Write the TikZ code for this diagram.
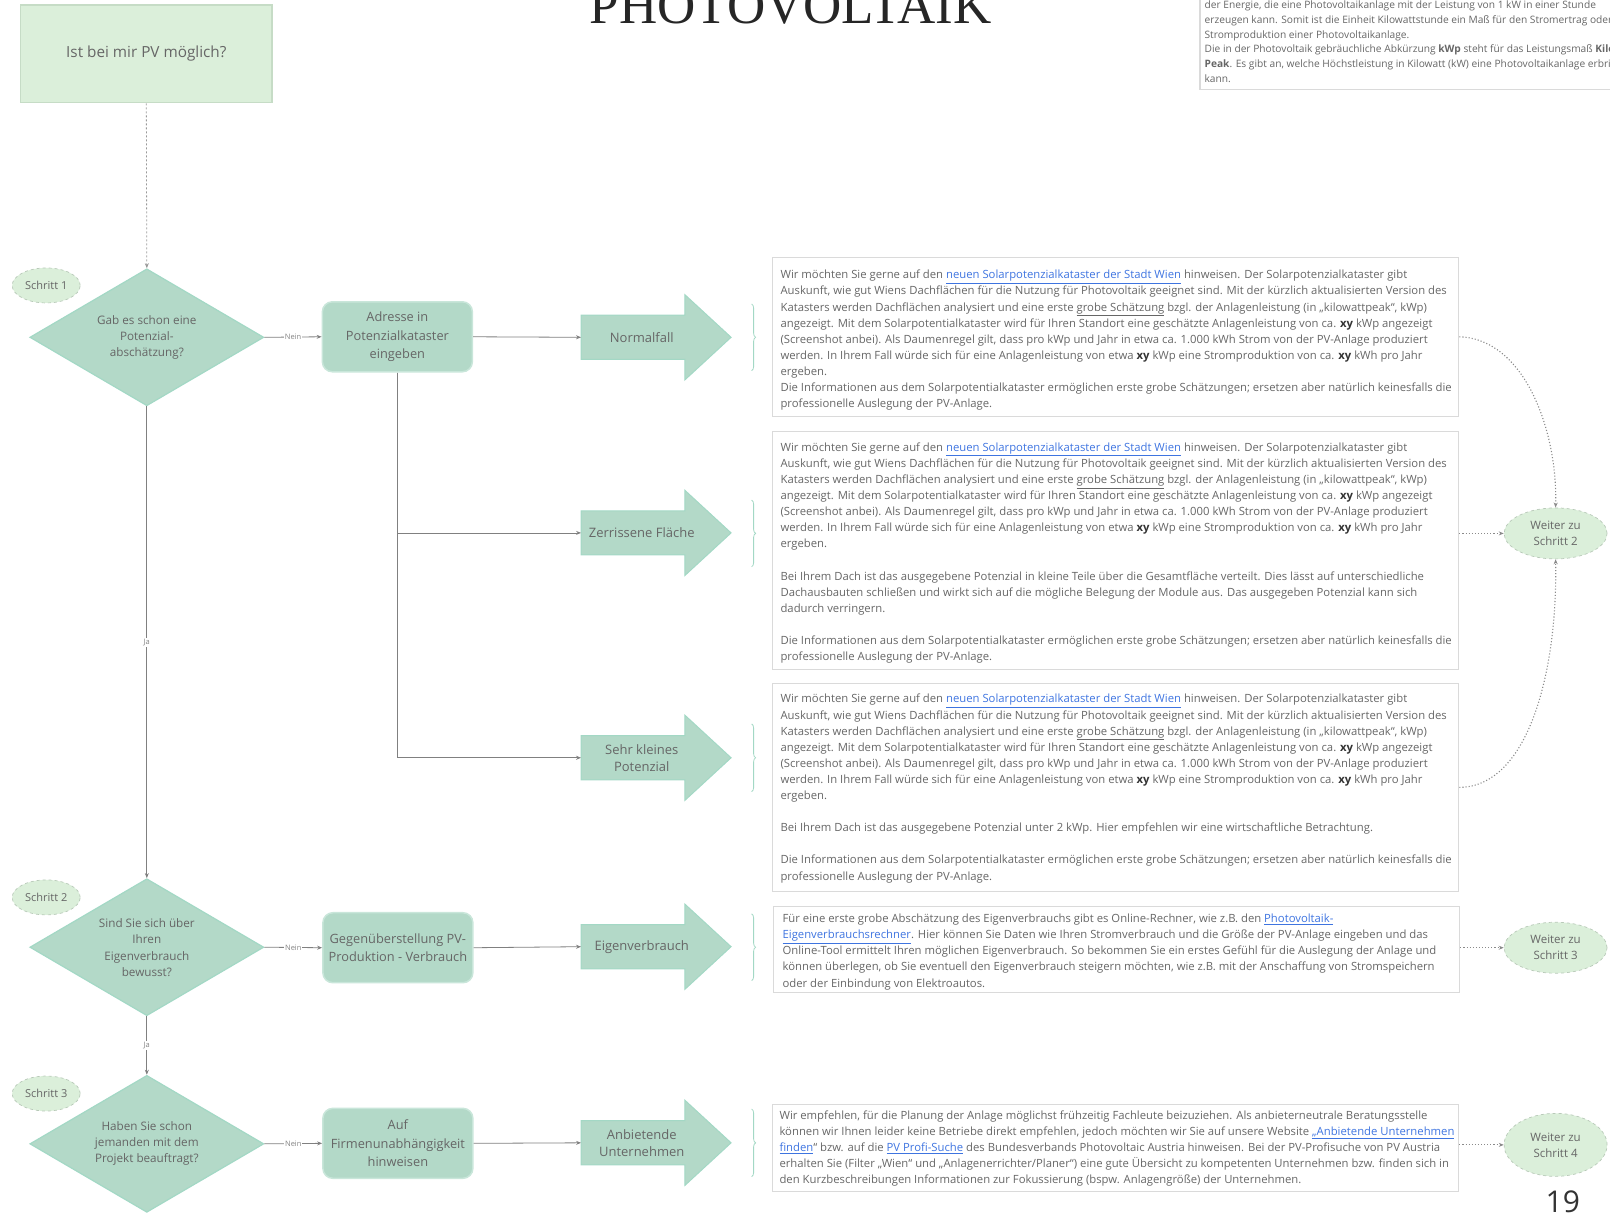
\documentclass[tikz,border=0pt]{standalone}
\usepackage{fontspec}
\setmainfont{Open Sans}
\newfontfamily\titlefont{Liberation Serif}
\usetikzlibrary{shapes.geometric,arrows.meta,decorations.pathreplacing}
\definecolor{mint}{HTML}{B3D9C8}
\definecolor{mintline}{HTML}{A3D8C5}
\definecolor{boxedge}{HTML}{C9E6DA}
\definecolor{lgreen}{HTML}{DBEFDA}
\definecolor{lgreenline}{HTML}{C6DCC6}
\definecolor{txt}{HTML}{666666}
\definecolor{link}{HTML}{3E74E0}
\definecolor{boxline}{HTML}{DADADA}
\definecolor{conn}{HTML}{808080}
\definecolor{dotc}{HTML}{8A8A8A}
\newcommand\lnk[1]{\textcolor{link}{\underline{#1}}}
\newcommand\bxy{\textbf{\textcolor{black!80}{xy}}}
\newcommand\katastertext{Wir möchten Sie gerne auf den \lnk{neuen Solarpotenzialkataster der Stadt Wien} hinweisen. Der Solarpotenzialkataster gibt\\
Auskunft, wie gut Wiens Dachflächen für die Nutzung für Photovoltaik geeignet sind. Mit der kürzlich aktualisierten Version des\\
Katasters werden Dachflächen analysiert und eine erste \underline{grobe Schätzung} bzgl. der Anlagenleistung (in „kilowattpeak“, kWp)\\
angezeigt. Mit dem Solarpotentialkataster wird für Ihren Standort eine geschätzte Anlagenleistung von ca. \bxy{} kWp angezeigt\\
(Screenshot anbei). Als Daumenregel gilt, dass pro kWp und Jahr in etwa ca. 1.000 kWh Strom von der PV-Anlage produziert\\
werden. In Ihrem Fall würde sich für eine Anlagenleistung von etwa \bxy{} kWp eine Stromproduktion von ca. \bxy{} kWh pro Jahr\\
ergeben.}
\newcommand\infotext{Die Informationen aus dem Solarpotentialkataster ermöglichen erste grobe Schätzungen; ersetzen aber natürlich keinesfalls die\\
professionelle Auslegung der PV-Anlage.}
\newcommand\pvarrow[3]{%
  \filldraw[arrowshape] (566,#2-21.5) -- (667,#2-21.5) -- (667,#2-41.5) -- (712,#2) -- (667,#2+41.5) -- (667,#2+21.5) -- (566,#2+21.5) -- cycle;
  \node[arrowtext] (#1) at (625,#2) {#3};}
\begin{document}
\begin{tikzpicture}[x=1.0268pt,y=-1.0268pt,
  every node/.style={text=txt},
  conn/.style={draw=conn, line width=0.8pt, -{Stealth[length=5pt,width=4pt]}},
  dashconn/.style={draw=conn!80, line width=0.8pt, dash pattern=on 2pt off 2pt, -{Stealth[length=5pt,width=4pt]}},
  dotconn/.style={draw=dotc, line width=1.1pt, dotted, -{Stealth[length=5pt,width=4pt]}},
  lab/.style={fill=white, font=\fontsize{7.5}{8}\selectfont, inner sep=1pt, text=txt!80},
  decision/.style={diamond, fill=mint, draw=mintline, line width=1.2pt, minimum width=234pt, minimum height=137pt, inner sep=0pt},
  dtext/.style={align=center, font=\fontsize{11.7}{16.2}\selectfont},
  procbox/.style={rectangle, rounded corners=10pt, fill=mint, draw=boxedge, line width=1.5pt, minimum width=150pt, minimum height=70pt, align=center, font=\fontsize{12.8}{18.3}\selectfont, inner sep=2pt},
  arrowshape/.style={fill=mint, draw=mintline, line width=1pt},
  arrowtext/.style={minimum width=121pt, inner sep=0pt, align=center, font=\fontsize{13}{17}\selectfont},
  stepell/.style={ellipse, fill=lgreen, draw=lgreenline!80!gray, dashed, line width=0.7pt, minimum width=68pt, minimum height=35pt, inner sep=0pt, font=\fontsize{11}{12}\selectfont},
  nextell/.style={ellipse, fill=lgreen, draw=lgreenline!80!gray, dashed, line width=0.7pt, minimum width=103pt, minimum height=51pt, inner sep=0pt, align=center, font=\fontsize{11.5}{16}\selectfont},
  tbox/.style={rectangle, draw=boxline, line width=1.2pt, minimum width=686pt, anchor=north west, inner sep=0pt},
  ttext/.style={anchor=north west, align=left, inner sep=0pt, font=\fontsize{11.3}{16.1}\selectfont},
  brc/.style={draw=mintline, line width=0.8pt, decorate, decoration={brace, amplitude=4pt}}
]
\useasboundingbox (0,0) rectangle (1568,1184);

% title and top-right note
\node[font=\titlefont\fontsize{53}{53}\selectfont, text=black!85, anchor=base] (title) at (770,23) {PHOTOVOLTAIK};
\node[rectangle, draw=boxline, line width=1.2pt, anchor=south west, minimum width=450pt, minimum height=100pt] (note) at (1168,88) {};
\node[anchor=north west, align=left, inner sep=0pt, font=\fontsize{10.2}{14.8}\selectfont] (notetext) at (1173,0.5) {der Energie, die eine Photovoltaikanlage mit der Leistung von 1 kW in einer Stunde\\
erzeugen kann. Somit ist die Einheit Kilowattstunde ein Maß für den Stromertrag oder\\
Stromproduktion einer Photovoltaikanlage.\\
Die in der Photovoltaik gebräuchliche Abkürzung \textbf{kWp} steht für das Leistungsmaß \textbf{Kilowatt}\\
\textbf{Peak}. Es gibt an, welche Höchstleistung in Kilowatt (kW) eine Photovoltaikanlage erbringen\\
kann.};

% left column
\node[rectangle, fill=lgreen, draw=lgreenline, line width=1.5pt, minimum width=251.5pt, minimum height=97.5pt, font=\fontsize{15.3}{18}\selectfont] (start) at (142.5,52.5) {Ist bei mir PV möglich?};

\node[stepell] (s1) at (45,278) {Schritt 1};
\node[decision] (d1) at (143,328.5) {};
\node[dtext] (d1t) at (143,328.5) {Gab es schon eine\\Potenzial-\\abschätzung?};

\node[stepell] (s2) at (45,874) {Schritt 2};
\node[decision] (d2) at (143,922.5) {};
\node[dtext] (d2t) at (143,923) {Sind Sie sich über\\Ihren\\Eigenverbrauch\\bewusst?};

\node[stepell] (s3) at (45,1065) {Schritt 3};
\node[decision] (d3) at (143,1114) {};
\node[dtext] (d3t) at (143,1113.5) {Haben Sie schon\\jemanden mit dem\\Projekt beauftragt?};

% process boxes
\node[procbox] (adr) at (387,328) {Adresse in\\Potenzialkataster\\eingeben};
\node[procbox] (geg) at (387.5,923) {Gegenüberstellung PV-\\Produktion - Verbrauch};
\node[procbox] (auf) at (387.5,1113.5) {Auf\\Firmenunabhängigkeit\\hinweisen};

% arrows
\pvarrow{nf}{328.5}{Normalfall}
\pvarrow{zf}{519}{Zerrissene Fläche}
\pvarrow{sk}{738}{Sehr kleines\\Potenzial}
\pvarrow{ev}{922}{Eigenverbrauch}
\pvarrow{au}{1113}{Anbietende\\Unternehmen}

% braces
\draw[brc] (732,296) -- (732,361);
\draw[brc] (732,487) -- (732,552);
\draw[brc] (732,705) -- (732,771);
\draw[brc] (732,890) -- (732,955);
\draw[brc] (732,1080) -- (732,1146);

% text boxes
\node[tbox, minimum height=159pt] (b1) at (752,250) {};
\node[ttext] (b1t) at (760,263) {\katastertext\\\infotext};

\node[tbox, minimum height=238pt] (b2) at (752,420) {};
\node[ttext] (b2t) at (760,431) {\katastertext\\[16.1pt]
Bei Ihrem Dach ist das ausgegebene Potenzial in kleine Teile über die Gesamtfläche verteilt. Dies lässt auf unterschiedliche\\
Dachausbauten schließen und wirkt sich auf die mögliche Belegung der Module aus. Das ausgegeben Potenzial kann sich\\
dadurch verringern.\\[16.1pt]
\infotext};

\node[tbox, minimum height=208pt] (b3) at (752,665) {};
\node[ttext] (b3t) at (760,676) {\katastertext\\[16.1pt]
Bei Ihrem Dach ist das ausgegebene Potenzial unter 2 kWp. Hier empfehlen wir eine wirtschaftliche Betrachtung.\\[16.1pt]
\infotext};

\node[tbox, minimum height=86pt] (b4) at (753,882) {};
\node[ttext] (b4t) at (762,890) {Für eine erste grobe Abschätzung des Eigenverbrauchs gibt es Online-Rechner, wie z.B. den \lnk{Photovoltaik-}\\
\lnk{Eigenverbrauchsrechner}. Hier können Sie Daten wie Ihren Stromverbrauch und die Größe der PV-Anlage eingeben und das\\
Online-Tool ermittelt Ihren möglichen Eigenverbrauch. So bekommen Sie ein erstes Gefühl für die Auslegung der Anlage und\\
können überlegen, ob Sie eventuell den Eigenverbrauch steigern möchten, wie z.B. mit der Anschaffung von Stromspeichern\\
oder der Einbindung von Elektroautos.};

\node[tbox, minimum height=87pt] (b5) at (752,1075) {};
\node[ttext] (b5t) at (759,1081.5) {Wir empfehlen, für die Planung der Anlage möglichst frühzeitig Fachleute beizuziehen. Als anbieterneutrale Beratungsstelle\\
können wir Ihnen leider keine Betriebe direkt empfehlen, jedoch möchten wir Sie auf unsere Website \lnk{„Anbietende Unternehmen}\\
\lnk{finden}“ bzw. auf die \lnk{PV Profi-Suche} des Bundesverbands Photovoltaic Austria hinweisen. Bei der PV-Profisuche von PV Austria\\
erhalten Sie (Filter „Wien“ und „Anlagenerrichter/Planer“) eine gute Übersicht zu kompetenten Unternehmen bzw. finden sich in\\
den Kurzbeschreibungen Informationen zur Fokussierung (bspw. Anlagengröße) der Unternehmen.};

% next-step ellipses
\node[nextell] (w2) at (1515,519.5) {Weiter zu\\Schritt 2};
\node[nextell] (w3) at (1515,923) {Weiter zu\\Schritt 3};
\node[nextell, minimum height=63pt] (w4) at (1515,1115) {Weiter zu\\Schritt 4};

\node[font=\fontsize{30}{30}\selectfont, text=black!80, anchor=base, inner sep=0pt] (pg) at (1522,1181) {19};

% connectors
\draw[dashconn] (start.south) -- (d1.north);
\draw[conn] (d1.south) -- node[lab]{Ja} (d2.north);
\draw[conn] (d2.south) -- node[lab]{Ja} (d3.north);
\draw[conn] (d1.east) -- node[lab]{Nein} (adr.west);
\draw[conn] (d2.east) -- node[lab]{Nein} (geg.west);
\draw[conn] (d3.east) -- node[lab]{Nein} (auf.west);
\draw[conn] (adr.east) -- (nf.west);
\draw[conn] (adr.south) |- (zf.west);
\draw[conn] (adr.south) |- (sk.west);
\draw[conn] (geg.east) -- (ev.west);
\draw[conn] (auf.east) -- (au.west);

\draw[dotconn] (b1.east) .. controls (1485,330) and (1517,420) .. (w2.north);
\draw[dotconn] (b2.east |- w2.west) -- (w2.west);
\draw[dotconn] (b3.east) .. controls (1490,766) and (1517,650) .. (w2.south);
\draw[dotconn] (b4.east |- w3.west) -- (w3.west);
\draw[dotconn] (b5.east |- w4.west) -- (w4.west);
\end{tikzpicture}
\end{document}
